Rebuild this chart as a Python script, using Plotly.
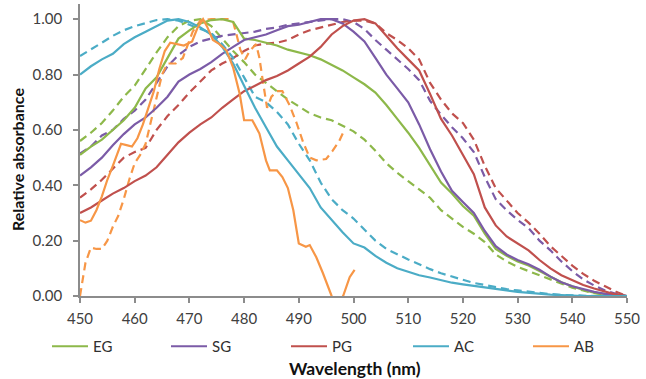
import plotly.graph_objects as go

# ---------------- data ----------------
wl = [450, 452, 454, 456, 458, 460, 462, 464, 466, 468, 470, 472, 474, 476, 478, 480,
      482, 484, 486, 488, 490, 492, 494, 496, 498, 500, 502, 504, 506, 508, 510, 512,
      514, 516, 518, 520, 522, 524, 526, 528, 530, 532, 534, 536, 538, 540, 542, 544,
      546, 548, 550]

eg_solid = [0.51, 0.54, 0.565, 0.60, 0.635, 0.68, 0.75, 0.79, 0.86, 0.93, 0.96, 0.985, 0.997, 1.0, 0.99, 0.93,
            0.925, 0.915, 0.905, 0.89, 0.88, 0.87, 0.855, 0.835, 0.815, 0.79, 0.765, 0.735, 0.69, 0.64, 0.59, 0.535,
            0.47, 0.41, 0.37, 0.325, 0.29, 0.225, 0.17, 0.145, 0.125, 0.11, 0.09, 0.07, 0.05, 0.035, 0.022, 0.012,
            0.006, 0.002, 0.0]
eg_dash = [0.56, 0.59, 0.625, 0.67, 0.72, 0.76, 0.82, 0.88, 0.935, 0.975, 0.995, 1.0, 0.975, 0.93, 0.885, 0.845,
           0.80, 0.77, 0.74, 0.71, 0.685, 0.66, 0.645, 0.635, 0.615, 0.595, 0.565, 0.525, 0.48, 0.445, 0.415, 0.385,
           0.355, 0.31, 0.28, 0.25, 0.225, 0.195, 0.15, 0.125, 0.105, 0.09, 0.075, 0.06, 0.045, 0.03, 0.02, 0.01,
           0.005, 0.002, 0.0]
sg_solid = [0.435, 0.465, 0.50, 0.545, 0.585, 0.62, 0.645, 0.68, 0.72, 0.775, 0.80, 0.82, 0.845, 0.875, 0.90, 0.925,
            0.935, 0.945, 0.96, 0.975, 0.98, 0.99, 1.0, 1.0, 0.985, 0.955, 0.92, 0.86, 0.80, 0.75, 0.70, 0.62,
            0.53, 0.45, 0.38, 0.34, 0.30, 0.235, 0.18, 0.15, 0.13, 0.115, 0.095, 0.07, 0.05, 0.035, 0.025, 0.015,
            0.008, 0.003, 0.0]
sg_dash = [0.515, 0.54, 0.58, 0.60, 0.64, 0.67, 0.71, 0.77, 0.83, 0.87, 0.90, 0.92, 0.93, 0.94, 0.945, 0.95,
           0.955, 0.965, 0.97, 0.98, 0.985, 0.99, 0.995, 1.0, 1.0, 0.99, 0.965, 0.925, 0.89, 0.855, 0.82, 0.78,
           0.705, 0.655, 0.61, 0.57, 0.52, 0.43, 0.35, 0.31, 0.275, 0.245, 0.20, 0.165, 0.125, 0.09, 0.06, 0.038,
           0.02, 0.008, 0.0]
pg_solid = [0.30, 0.32, 0.345, 0.37, 0.39, 0.415, 0.435, 0.465, 0.51, 0.555, 0.59, 0.62, 0.645, 0.68, 0.71, 0.74,
            0.76, 0.78, 0.795, 0.815, 0.84, 0.865, 0.90, 0.945, 0.975, 0.995, 1.0, 0.985, 0.94, 0.895, 0.855, 0.815,
            0.73, 0.64, 0.58, 0.51, 0.44, 0.32, 0.255, 0.215, 0.19, 0.165, 0.13, 0.10, 0.075, 0.058, 0.04, 0.027,
            0.015, 0.005, 0.0]
pg_dash = [0.355, 0.385, 0.42, 0.46, 0.50, 0.52, 0.535, 0.60, 0.65, 0.69, 0.735, 0.775, 0.815, 0.84, 0.86, 0.885,
           0.905, 0.912, 0.915, 0.925, 0.945, 0.96, 0.97, 0.98, 0.99, 0.995, 0.995, 0.985, 0.95, 0.925, 0.895, 0.855,
           0.77, 0.71, 0.66, 0.625, 0.565, 0.47, 0.39, 0.345, 0.30, 0.265, 0.225, 0.18, 0.145, 0.11, 0.08, 0.055,
           0.035, 0.015, 0.0]
ac_solid = [0.80, 0.83, 0.855, 0.875, 0.91, 0.935, 0.955, 0.975, 0.995, 1.0, 0.99, 0.97, 0.945, 0.90, 0.84, 0.76,
            0.68, 0.61, 0.54, 0.49, 0.44, 0.39, 0.32, 0.275, 0.23, 0.19, 0.175, 0.145, 0.12, 0.10, 0.088, 0.075,
            0.067, 0.057, 0.048, 0.042, 0.036, 0.031, 0.025, 0.02, 0.015, 0.011, 0.008, 0.005, 0.003, 0.001, 0.0, 0.0,
            0.0, 0.0, 0.0]
ac_dash = [0.867, 0.89, 0.915, 0.94, 0.96, 0.975, 0.987, 0.997, 1.0, 0.995, 0.98, 0.965, 0.95, 0.91, 0.86, 0.79,
           0.72, 0.70, 0.665, 0.62, 0.55, 0.49, 0.41, 0.35, 0.31, 0.28, 0.24, 0.20, 0.17, 0.15, 0.132, 0.115,
           0.097, 0.082, 0.07, 0.058, 0.047, 0.04, 0.032, 0.025, 0.02, 0.015, 0.01, 0.007, 0.004, 0.002, 0.001, 0.0,
           0.0, 0.0, 0.0]

ab_wl = [450, 451, 452, 453, 454, 455, 456, 457, 457.5, 458.5, 459.5, 460.5, 461.5, 462.5, 463.5, 464.5,
         465.5, 466.5, 467.5, 469, 470.5, 471.5, 472.5, 473.2, 474.3, 475.5, 476.8, 478, 479.2, 480, 481.5,
         482.8, 484, 484.7, 486, 487, 488, 489, 490, 491.3, 492, 493.2, 494.4, 496, 497, 498.1, 499.3, 500.2]
ab_solid = [0.274, 0.265, 0.272, 0.31, 0.36, 0.42, 0.47, 0.52, 0.55, 0.545, 0.54, 0.57, 0.62, 0.68, 0.74, 0.82,
            0.885, 0.915, 0.91, 0.905, 0.92, 0.97, 1.0, 0.975, 0.925, 0.91, 0.886, 0.825, 0.73, 0.635, 0.635,
            0.587, 0.49, 0.454, 0.454, 0.43, 0.39, 0.31, 0.19, 0.178, 0.184, 0.14, 0.083, 0.0, -0.03, 0.0, 0.068, 0.094]
ab_dash_wl = [450, 450.5, 451, 452, 453, 454, 455, 456, 457, 458, 459, 460, 461, 462, 463, 464, 465, 466,
              467.5, 468.8, 469.5, 470.6, 472, 474, 477, 478, 478.6, 479.3, 480.2, 481, 482.2, 482.8, 483.4,
              484.2, 485, 486, 487, 488.3, 489.6, 490.8, 492, 493.2, 495, 496.2, 497.4, 498.1]
ab_dash = [0.0, 0.06, 0.12, 0.175, 0.17, 0.17, 0.2, 0.25, 0.29, 0.35, 0.42, 0.48, 0.51, 0.55, 0.63, 0.72, 0.8, 0.84,
           0.84, 0.86, 0.9, 0.955, 0.995, 1.0, 1.0, 0.99, 0.946, 0.89, 0.855, 0.885, 0.91, 0.86, 0.78,
           0.68, 0.72, 0.74, 0.74, 0.69, 0.625, 0.555, 0.50, 0.49, 0.495, 0.525, 0.56, 0.59]

names = ["EG", "SG", "PG", "AC", "AB"]
colors = ["#8DB84A", "#7B5BA7", "#C0504D", "#4BACC6", "#F79646"]

x_ticks = [450, 460, 470, 480, 490, 500, 510, 520, 530, 540, 550]
y_ticks = [0.0, 0.2, 0.4, 0.6, 0.8, 1.0]
y_labels = ["0.00", "0.20", "0.40", "0.60", "0.80", "1.00"]

# ---------------- figure ----------------
solids = [(wl, eg_solid), (wl, sg_solid), (wl, pg_solid), (wl, ac_solid), (ab_wl, ab_solid)]
dashes = [(wl, eg_dash), (wl, sg_dash), (wl, pg_dash), (wl, ac_dash), (ab_dash_wl, ab_dash)]

L, R, T, B = 80, 19, 4, 83
W, H = 646, 379
PW, PH = W - L - R, H - T - B


def px_x(p):
    return (p - L) / PW


def px_y(p):
    return (H - B - p) / PH


fig = go.Figure()
DASH = "8px,5px"
for (xs, ys), c in zip(dashes, colors):
    fig.add_trace(go.Scatter(x=xs, y=ys, mode="lines", showlegend=False,
                             line=dict(color=c, width=2.2, dash=DASH), hoverinfo="skip"))

legend_ids = ["legend", "legend2", "legend3", "legend4", "legend5"]
legend_line_start = [56, 175, 295, 417, 537]
for (xs, ys), c, n, lid in zip(solids, colors, names, legend_ids):
    fig.add_trace(go.Scatter(x=xs, y=ys, mode="lines", name=n, legend=lid,
                             line=dict(color=c, width=2.2)))

axis_col = "#8C8C8C"
layout_legends = {}
for lid, ls in zip(legend_ids, legend_line_start):
    layout_legends[lid] = dict(orientation="h", x=px_x(ls - 9), xanchor="left",
                               y=px_y(340 - 10), yanchor="top", itemwidth=36,
                               bgcolor="rgba(0,0,0,0)",
                               font=dict(size=15, color="#303030"))

fig.update_layout(
    width=W, height=H,
    margin=dict(l=L, r=R, t=T, b=B),
    paper_bgcolor="white", plot_bgcolor="white",
    font=dict(family="Lato, Open Sans, sans-serif", size=15, color="#404040"),
    showlegend=True,
    xaxis=dict(range=[450, 550], tickmode="array", tickvals=x_ticks,
               ticktext=[str(v) for v in x_ticks],
               showline=True, linecolor=axis_col, linewidth=1.5,
               ticks="outside", ticklen=5, tickcolor=axis_col, tickwidth=1.5,
               ticklabelstandoff=3,
               showgrid=False, zeroline=False),
    yaxis=dict(range=[0, 1.055], tickmode="array", tickvals=y_ticks, ticktext=y_labels,
               showline=True, linecolor=axis_col, linewidth=1.5,
               ticks="outside", ticklen=5, tickcolor=axis_col, tickwidth=1.5,
               ticklabelstandoff=8,
               showgrid=False, zeroline=False),
    annotations=[
        dict(text="<b>Wavelength (nm)</b>", xref="paper", yref="paper",
             x=px_x(355), y=px_y(368), xanchor="center", yanchor="middle",
             showarrow=False, font=dict(size=17.5, color="#111111")),
        dict(text="<b>Relative absorbance</b>", xref="paper", yref="paper",
             x=px_x(17), y=px_y(160), xanchor="center", yanchor="middle", textangle=-90,
             showarrow=False, font=dict(size=16, color="#111111")),
    ],
    **layout_legends,
)

fig.write_html("out.html")
